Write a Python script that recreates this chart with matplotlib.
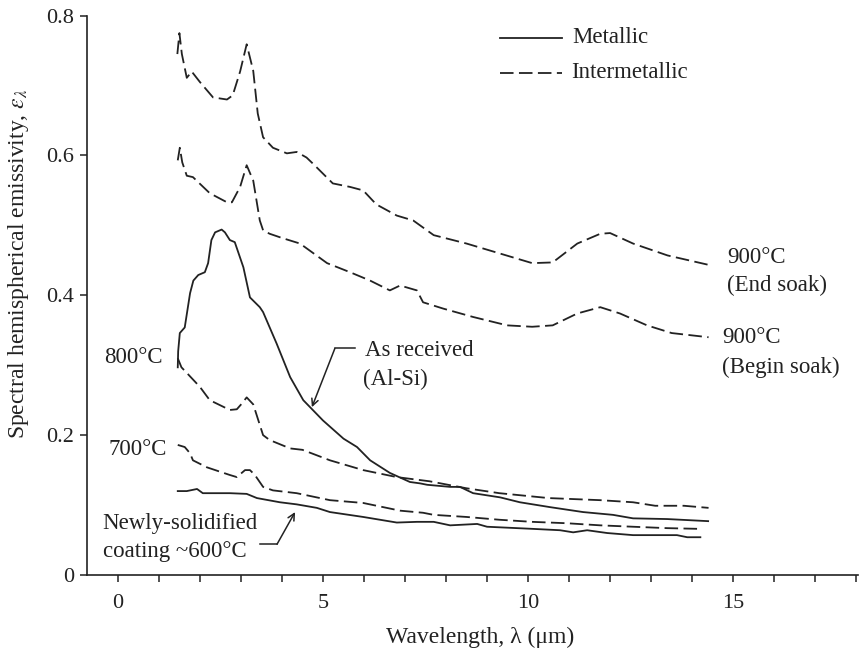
import matplotlib
matplotlib.use("Agg")
import matplotlib.pyplot as plt
from matplotlib.ticker import MultipleLocator, FixedLocator, FixedFormatter

plt.rcParams['font.family'] = ['Liberation Serif', 'DejaVu Serif']
plt.rcParams['mathtext.fontset'] = 'stix'

INK = '#222222'
DASH = (0, (7.5, 3))

# 900 C, end of soak (intermetallic)
end_soak_x = [1.45, 1.50, 1.56, 1.68, 1.80, 2.0, 2.32, 2.66, 2.80, 2.98, 3.14, 3.30, 3.41, 3.54,
              3.78, 4.12, 4.36, 4.6, 4.76, 5.24, 5.66, 5.98, 6.3, 6.8, 7.2, 7.7, 8.5, 9.3, 10.1,
              10.6, 11.2, 11.76, 12.0, 12.56, 13.4, 14.44]
end_soak_y = [0.745, 0.775, 0.745, 0.711, 0.72, 0.705, 0.683, 0.680, 0.686, 0.72, 0.759, 0.721,
              0.66, 0.626, 0.611, 0.603, 0.605, 0.597, 0.588, 0.56, 0.555, 0.55, 0.53, 0.514,
              0.507, 0.486, 0.474, 0.46, 0.446, 0.447, 0.474, 0.488, 0.489, 0.474, 0.457, 0.443]

# 900 C, beginning of soak (intermetallic)
begin_soak_x = [1.46, 1.51, 1.57, 1.68, 1.83, 2.24, 2.66, 2.78, 2.98, 3.14, 3.30, 3.46, 3.54, 3.7,
                4.0, 4.44, 5.1, 5.66, 6.15, 6.63, 6.88, 7.29, 7.44, 7.93, 8.66, 9.49, 10.1, 10.6,
                11.2, 11.76, 12.24, 12.9, 13.5, 14.4]
begin_soak_y = [0.593, 0.611, 0.59, 0.571, 0.569, 0.546, 0.533, 0.533, 0.555, 0.586, 0.564, 0.507,
                0.493, 0.488, 0.482, 0.474, 0.446, 0.433, 0.421, 0.407, 0.414, 0.407, 0.39, 0.381,
                0.369, 0.357, 0.355, 0.357, 0.374, 0.383, 0.374, 0.357, 0.346, 0.34]

# 800 C (intermetallic)
c800_x = [1.46, 1.55, 1.68, 2.0, 2.24, 2.73, 2.9, 3.02, 3.14, 3.3, 3.54, 3.7, 4.2, 4.5, 5.17,
          5.98, 6.8, 7.6, 8.5, 9.3, 10.5, 11.76, 12.56, 13.1, 13.8, 14.4]
c800_y = [0.31, 0.297, 0.289, 0.269, 0.25, 0.236, 0.237, 0.245, 0.254, 0.244, 0.200, 0.193,
          0.181, 0.179, 0.164, 0.15, 0.14, 0.134, 0.124, 0.117, 0.11, 0.107, 0.104, 0.099,
          0.099, 0.096]

# 700 C (intermetallic)
c700_x = [1.46, 1.63, 1.76, 1.83, 2.17, 2.73, 2.9, 3.1, 3.22, 3.34, 3.54, 3.78, 4.36, 5.17,
          5.98, 6.88, 7.44, 7.7, 8.5, 9.3, 10.1, 10.95, 11.76, 12.56, 13.39, 14.15]
c700_y = [0.186, 0.183, 0.174, 0.164, 0.154, 0.143, 0.14, 0.15, 0.15, 0.143, 0.126, 0.121,
          0.117, 0.107, 0.103, 0.092, 0.089, 0.086, 0.083, 0.079, 0.076, 0.074, 0.071, 0.069,
          0.067, 0.066]

# As received Al-Si (metallic)
as_rec_x = [1.46, 1.47, 1.51, 1.63, 1.76, 1.84, 1.96, 2.12, 2.2, 2.28, 2.37, 2.53, 2.61, 2.73,
            2.85, 3.06, 3.22, 3.46, 3.54, 3.87, 4.2, 4.52, 5.0, 5.5, 5.83, 6.15, 6.63, 7.12,
            7.37, 7.54, 8.1, 8.34, 8.66, 9.32, 9.8, 10.54, 11.34, 12.07, 12.56, 13.39, 14.39]
as_rec_y = [0.297, 0.32, 0.346, 0.354, 0.403, 0.421, 0.429, 0.433, 0.446, 0.479, 0.49, 0.494,
            0.49, 0.479, 0.476, 0.44, 0.397, 0.383, 0.376, 0.331, 0.283, 0.25, 0.221, 0.195,
            0.183, 0.164, 0.146, 0.133, 0.131, 0.129, 0.126, 0.126, 0.117, 0.111, 0.104, 0.097,
            0.09, 0.086, 0.081, 0.08, 0.077]

# Newly solidified coating, ~600 C (metallic)
new_sol_x = [1.46, 1.68, 1.93, 2.07, 2.32, 2.73, 3.14, 3.39, 3.95, 4.36, 4.85, 5.17, 5.98, 6.8,
             7.29, 7.7, 8.1, 8.76, 9.0, 10.1, 10.78, 11.1, 11.44, 11.93, 12.56, 13.63, 13.88, 14.2]
new_sol_y = [0.12, 0.12, 0.123, 0.117, 0.117, 0.117, 0.116, 0.11, 0.104, 0.101, 0.096, 0.09,
             0.083, 0.075, 0.076, 0.076, 0.071, 0.073, 0.069, 0.066, 0.064, 0.061, 0.064, 0.06,
             0.057, 0.057, 0.054, 0.054]

y_ticks = [0, 0.2, 0.4, 0.6, 0.8]
y_tick_labels = ['0', '0.2', '0.4', '0.6', '0.8']
x_ticks = [0, 5, 10, 15]

fig = plt.figure(figsize=(8.6, 6.5), dpi=100)
ax = fig.add_axes([0.101, 0.1154, 0.897, 0.8606])

lw = 1.3
ax.plot(end_soak_x, end_soak_y, color=INK, lw=lw, ls=DASH)
ax.plot(begin_soak_x, begin_soak_y, color=INK, lw=lw, ls=DASH)
ax.plot(c800_x, c800_y, color=INK, lw=lw, ls=DASH)
ax.plot(c700_x, c700_y, color=INK, lw=lw, ls=DASH)
ax.plot(as_rec_x, as_rec_y, color=INK, lw=lw, ls='-')
ax.plot(new_sol_x, new_sol_y, color=INK, lw=lw, ls='-')

ax.set_xlim(-0.756, 18.05)
ax.set_ylim(0, 0.8)
for s in ('top', 'right'):
    ax.spines[s].set_visible(False)
for s in ('left', 'bottom'):
    ax.spines[s].set_linewidth(1.2)
    ax.spines[s].set_color(INK)

ax.xaxis.set_major_locator(FixedLocator(x_ticks))
ax.xaxis.set_minor_locator(MultipleLocator(1))
ax.yaxis.set_major_locator(FixedLocator(y_ticks))
ax.yaxis.set_major_formatter(FixedFormatter(y_tick_labels))
ax.tick_params(axis='both', which='both', direction='out', length=5, width=1.1,
               color=INK, labelcolor=INK, labelsize=16)
ax.tick_params(axis='x', which='major', pad=9)
ax.tick_params(axis='y', which='major', pad=4)

ax.set_xlabel('Wavelength, λ (μm)', fontsize=17, color=INK)
ax.set_ylabel(r'Spectral hemispherical emissivity, $\varepsilon_\lambda$', fontsize=17, color=INK)
ax.yaxis.set_label_coords(-0.0725, 0.557)
ax.xaxis.set_label_coords(0.51, -0.093)

txt = dict(fontsize=16.5, color=INK, va='center')
ax.text(14.85, 0.454, '900°C', ha='left', **txt)
ax.text(14.85, 0.414, '(End soak)', ha='left', **txt)
ax.text(14.73, 0.339, '900°C', ha='left', **txt)
ax.text(14.73, 0.297, '(Begin soak)', ha='left', **txt)
ax.text(1.10, 0.311, '800°C', ha='right', **txt)
ax.text(1.20, 0.179, '700°C', ha='right', **txt)
ax.text(6.02, 0.321, 'As received', ha='left', **txt)
ax.text(5.98, 0.279, '(Al-Si)', ha='left', **txt)
ax.text(-0.37, 0.074, 'Newly-solidified', ha='left', **txt)
ax.text(-0.37, 0.033, 'coating ~600°C', ha='left', **txt)

# Leader lines with arrowheads
arrow = dict(arrowstyle='->', color=INK, lw=1.1, mutation_scale=12, shrinkA=0, shrinkB=0)
ax.plot([5.29, 5.78], [0.324, 0.324], color=INK, lw=1.1)
ax.annotate('', xy=(4.73, 0.24), xytext=(5.29, 0.324), arrowprops=arrow)
ax.plot([3.46, 3.88], [0.044, 0.044], color=INK, lw=1.1)
ax.annotate('', xy=(4.32, 0.09), xytext=(3.88, 0.044), arrowprops=arrow)

# Legend drawn as line samples with labels
ax.plot([9.32, 10.83], [0.7686, 0.7686], color=INK, lw=lw, ls='-')
ax.plot([9.32, 10.83], [0.7186, 0.7186], color=INK, lw=lw, ls=DASH)
ax.text(11.07, 0.7686, 'Metallic', ha='left', **txt)
ax.text(11.05, 0.7186, 'Intermetallic', ha='left', **txt)

fig.savefig('out.png', dpi=100)
